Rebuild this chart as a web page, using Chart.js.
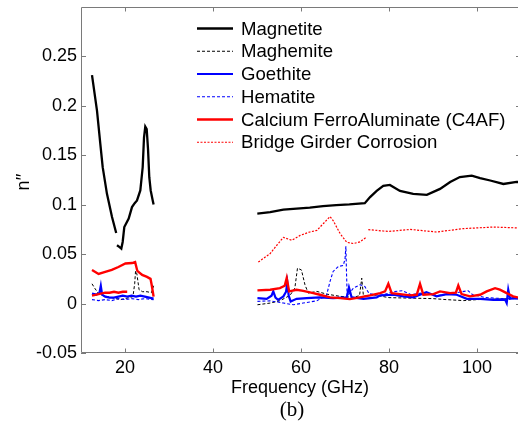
<!DOCTYPE html>
<html><head><meta charset="utf-8">
<script src="https://cdn.jsdelivr.net/npm/chart.js@4"></script>
<style>html,body{margin:0;padding:0;overflow:hidden;background:#fff}</style>
</head><body>
<canvas id="c" width="530" height="427"></canvas>
<script>
// ---- axis ticks ----
const xTicks = [20, 40, 60, 80, 100];
const yTicks = [-0.05, 0, 0.05, 0.1, 0.15, 0.2, 0.25];
const yTickLabels = ['-0.05', '0', '0.05', '0.1', '0.15', '0.2', '0.25'];
const seriesNames = ['Magnetite', 'Maghemite', 'Goethite', 'Hematite', 'Calcium FerroAluminate (C4AF)', 'Bridge Girder Corrosion'];

// ---- data (frequency in GHz, n'' values; null = gap) ----
const magnetiteFreq = [12.5,13.64,14.39,14.93,15.9,17.05,18.0, 18.1,
  18.18,18.7,19.16,19.47,19.84,20.84,21.59,22.2,22.73,23.48,24.02,24.32,24.61,24.93,25.23,25.52,25.84,26.3,26.5, 38,
  50.07,53,56,59,62,65,68,71,74.5,75.7,77.2,78.7,80.2,82.5,85.5,88.6,91.6,93.9,96.1,98.8,100.7,103,106,109,110];
const magnetiteVal = [0.231,0.195,0.1615,0.138,0.111,0.0875,0.0714, null,
  0.059,0.0573,0.0556,0.0623,0.0774,0.0859,0.0976,0.1016,0.1043,0.1144,0.1379,0.168,0.179,0.1766,0.1565,0.1278,0.1144,0.1043,0.1003, null,
  0.091,0.0925,0.095,0.096,0.097,0.0985,0.0995,0.1003,0.1016,0.1077,0.114,0.119,0.120,0.114,0.111,0.110,0.116,0.123,0.128,0.1295,0.127,0.1245,0.121,0.123,0.123];

const maghemiteFreq = [12.5,13.2,14,15,16,17,18,19,20,21,21.8,22.2,22.4,22.7,23.2,24,25,26,26.5, 38,
  50.1,53,55.2,57.5,58.6,59.2,60.1,60.9,61.65,63.6,65.8,68.9,71.9,73.3,73.8,74.2,76.4,80,85,90,93,97,100,104,108,110];
const maghemiteVal = [0.020,0.015,0.010,0.008,0.007,0.006,0.005,0.004,0.005,0.006,0.007,0.020,0.033,0.030,0.014,0.012,0.012,0.011,0.018, null,
  -0.0012,0.0005,0.0028,0.0083,0.0156,0.0358,0.034,0.019,0.0106,0.0123,0.0096,0.0073,0.0063,0.008,0.0257,0.0073,0.0089,0.006,0.0055,0.005,0.004,0.003,0.004,0.0045,0.005,0.005];

const goethiteFreq = [12.5,13.5,14.2,14.5,14.8,15.5,16.5,17.5,18.5,19.5,20.5,21.5,22.5,23.5,24.5,25.5,26.5, 38,
  50.1,52.2,53.3,53.7,54.2,54.8,56,56.6,56.9,57.2,57.65,59,61.3,64.3,67.3,70.4,70.9,71.5,74.2,77.2,78,81,83.3,85.5,88.5,90.8,93.1,95.4,97.7,100.7,103.7,106.4,106.75,107.1,107.5,108.2,110];
const goethiteVal = [0.010,0.009,0.011,0.018,0.009,0.007,0.006,0.006,0.007,0.008,0.007,0.008,0.007,0.008,0.007,0.006,0.005, null,
  0.0055,0.0048,0.008,0.0123,0.006,0.0038,0.0073,0.012,0.021,0.008,0.0022,0.0048,0.0055,0.0063,0.0055,0.0063,0.0163,0.0063,0.0048,0.0063,0.0083,0.0089,0.0073,0.0063,0.0116,0.0073,0.0096,0.0089,0.0048,0.0048,0.0038,0.0038,0.0005,0.014,0.005,0.0055,0.005];

const hematiteFreq = [12.5,14,15.5,17,18.5,20,21.5,23,24.5,26.5, 38,
  50.1,53,56,58.25,60.5,63.6,65.8,66.6,67.3,68.5,69.6,70.0,70.2,70.35,70.5,71.9,73.4,74.5,75.5,78,81,83,85,88,91,94,98,99,102,106,110];
const hematiteVal = [0.004,0.003,0.004,0.003,0.005,0.004,0.005,0.004,0.005,0.004, null,
  0.0022,0.0028,0.0005,-0.0012,0.0005,0.0028,0.0083,0.0224,0.0325,0.0375,0.0385,0.045,0.058,0.03,0.0073,0.0156,0.019,0.0173,0.010,0.008,0.012,0.013,0.009,0.011,0.008,0.010,0.013,0.009,0.006,0.005,0.005];

const c4afFreq = [12.5,14,15.5,17,18.5,20.1,21.6,22.3,22.8,23.9,25.0,25.8,26.1,26.5, 38,
  50.1,53,55.2,56.3,56.75,57.3,59,60.5,62.8,64.3,66.6,68.9,71.1,73.4,75.7,78,79.1,79.85,80.6,82.5,84.8,86.3,87.05,87.8,90.1,91.6,93.9,95.2,95.75,96.5,98.4,100.7,102.2,104.1,105.2,106.75,108.2,110];
const c4afVal = [0.034,0.030,0.032,0.034,0.037,0.0405,0.041,0.042,0.033,0.029,0.027,0.025,0.018,0.007, null,
  0.0133,0.014,0.0156,0.018,0.0257,0.0123,0.014,0.0129,0.0106,0.0089,0.0063,0.0055,0.0045,0.0063,0.0083,0.0106,0.0123,0.020,0.0106,0.0096,0.0083,0.0089,0.020,0.0089,0.0096,0.0123,0.0106,0.011,0.0183,0.0096,0.0073,0.0089,0.0123,0.0156,0.014,0.0106,0.0073,0.0055];
const c4afLowFreq = [12.5,13.5,14.5,15.5,16.5,17.5,18.5,19.5,20.5];
const c4afLowVal = [0.008,0.009,0.010,0.011,0.011,0.012,0.011,0.012,0.012];

const girderFreq = [50.3,53,54.5,56,57.9,59.8,62.0,63.6,65.1,66.6,67.3,68.9,70.4,71.9,73.4,74.8, 75.0,
  75.3,78.7,80,84.8,90.8,96.9,103.7,110];
const girderVal = [0.042,0.0506,0.059,0.067,0.064,0.069,0.0724,0.074,0.081,0.088,0.084,0.0707,0.062,0.0607,0.0624,0.067, null,
  0.0748,0.0734,0.073,0.075,0.0724,0.0758,0.0774,0.0764];

// ---- styles ----
const styles = [
  {color:'#000000', width:2.3, dash:[]},
  {color:'#000000', width:1, dash:[3,2]},
  {color:'#0000ff', width:2.2, dash:[]},
  {color:'#0000ff', width:1.1, dash:[3,2]},
  {color:'#ff0000', width:2.4, dash:[]},
  {color:'#ff0000', width:1.2, dash:[2,1.5]}
];

function pts(f, v) { return f.map((x, i) => ({x: x, y: v[i]})); }
function ds(label, f, v, s, order) {
  return {label, data: pts(f, v), borderColor: s.color, borderWidth: s.width, borderDash: s.dash,
    pointRadius: 0, fill: false, tension: 0, spanGaps: false, order};
}

const datasets = [
  ds(seriesNames[0], magnetiteFreq, magnetiteVal, styles[0], 6),
  ds(seriesNames[1], maghemiteFreq, maghemiteVal, styles[1], 5),
  ds(seriesNames[2], goethiteFreq, goethiteVal, styles[2], 4),
  ds(seriesNames[3], hematiteFreq, hematiteVal, styles[3], 3),
  ds(seriesNames[4], c4afFreq, c4afVal, styles[4], 2),
  ds(seriesNames[5], girderFreq, girderVal, styles[5], 1),
  ds(seriesNames[4], c4afLowFreq, c4afLowVal, styles[4], 2)
];

const FONT = '"Liberation Sans", Arial, sans-serif';

const decor = {
  id: 'decor',
  afterDraw(chart) {
    const {ctx, chartArea: a, scales: {x, y}} = chart;
    ctx.save();
    ctx.strokeStyle = '#7a7a7a';
    ctx.lineWidth = 1;
    ctx.setLineDash([]);
    ctx.beginPath();
    ctx.rect(Math.round(a.left) + 0.5, Math.round(a.top) + 0.5, Math.round(a.right - a.left) - 1, Math.round(a.bottom - a.top) - 1);
    xTicks.forEach(t => {
      const px = Math.round(x.getPixelForValue(t)) + 0.5;
      ctx.moveTo(px, a.bottom); ctx.lineTo(px, a.bottom - 4.5);
      ctx.moveTo(px, a.top); ctx.lineTo(px, a.top + 4.5);
    });
    yTicks.forEach(t => {
      const py = Math.round(y.getPixelForValue(t)) + 0.5;
      ctx.moveTo(a.left, py); ctx.lineTo(a.left + 5, py);
      ctx.moveTo(a.right, py); ctx.lineTo(a.right - 5, py);
    });
    ctx.stroke();

    // legend (inside plot)
    ctx.font = '18.6px ' + FONT;
    ctx.fillStyle = '#000';
    ctx.textAlign = 'left';
    ctx.textBaseline = 'alphabetic';
    seriesNames.forEach((name, i) => {
      const s = styles[i];
      const ly = 28.5 + i * 22.75;
      ctx.beginPath();
      ctx.strokeStyle = s.color;
      ctx.lineWidth = s.width;
      ctx.setLineDash(s.dash);
      ctx.moveTo(197, ly); ctx.lineTo(233, ly);
      ctx.stroke();
      ctx.setLineDash([]);
      ctx.fillText(name, 241, ly + 6);
    });

    // axis titles
    ctx.textAlign = 'center';
    ctx.font = '18px ' + FONT;
    ctx.fillText('Frequency (GHz)', 300, 393);
    ctx.save();
    ctx.translate(29, 182);
    ctx.rotate(-Math.PI / 2);
    ctx.fillText('n\u2032\u2032', 0, 0);
    ctx.restore();
    ctx.font = '21px "Liberation Serif", "Times New Roman", serif';
    ctx.fillText('(b)', 292, 416);
    ctx.restore();
  }
};

new Chart(document.getElementById('c'), {
  type: 'line',
  data: {datasets},
  options: {
    responsive: false,
    animation: false,
    devicePixelRatio: 1,
    layout: {padding: {left: 0, right: 9, top: 7, bottom: 0}},
    plugins: {legend: {display: false}, tooltip: {enabled: false}},
    scales: {
      x: {
        type: 'linear', min: 10, max: 110,
        afterBuildTicks: s => { s.ticks = xTicks.map(v => ({value: v})); },
        afterFit: s => { s.height = 74; s.paddingLeft = 0; s.paddingRight = 0; },
        grid: {display: false, drawTicks: false},
        border: {display: false},
        ticks: {font: {size: 18, family: FONT}, color: '#000', padding: 4, maxRotation: 0, autoSkip: false,
          callback: v => String(v)}
      },
      y: {
        type: 'linear', min: -0.05, max: 0.3,
        afterBuildTicks: s => { s.ticks = yTicks.map(v => ({value: v})); },
        afterFit: s => { s.width = 81; s.paddingTop = 0; s.paddingBottom = 0; },
        grid: {display: false, drawTicks: false},
        border: {display: false},
        ticks: {font: {size: 18, family: FONT}, color: '#000', padding: 4, autoSkip: false,
          callback: (v, i) => yTickLabels[i]}
      }
    }
  },
  plugins: [decor]
});
</script>
</body></html>
